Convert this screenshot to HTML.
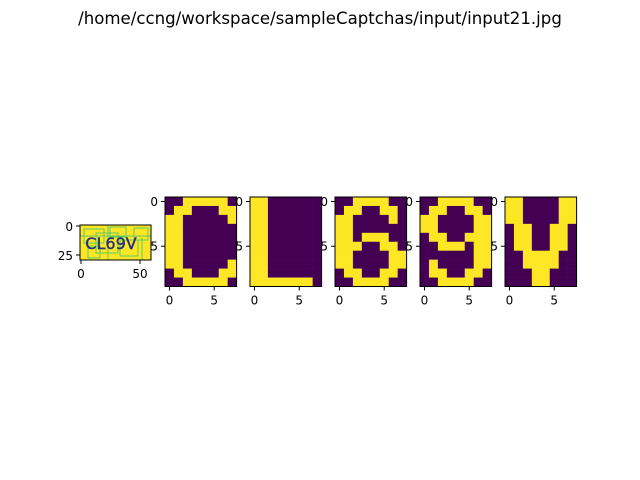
<!DOCTYPE html>
<html><head><meta charset="utf-8"><style>
body{margin:0;background:#fff}
svg{display:block;font-family:"DejaVu Sans","Liberation Sans",sans-serif}
</style></head><body>
<svg id="fig" width="640" height="480" xmlns="http://www.w3.org/2000/svg">
<rect width="640" height="480" fill="#fff"/>
<text x="320" y="24" text-anchor="middle" font-size="16.6">/home/ccng/workspace/sampleCaptchas/input/input21.jpg</text>
<g>
<rect x="80" y="225" width="71" height="35" fill="#fde725"/>
<g stroke="#5ec962" stroke-width="1" fill="none">
<rect x="84" y="229" width="20" height="14"/><rect x="96" y="233" width="22" height="20"/><rect x="110" y="227" width="16" height="10"/>
<rect x="120" y="240" width="18" height="16"/><rect x="134" y="228" width="14" height="12"/><rect x="88" y="246" width="12" height="12"/>
<line x1="80" y1="236" x2="151" y2="236"/><line x1="108" y1="225" x2="108" y2="260"/><line x1="142" y1="238" x2="142" y2="260"/>
</g>
<text x="111" y="249" text-anchor="middle" font-size="16" fill="#23307e" stroke="#23307e" stroke-width="0.4">CL69V</text>
<rect x="80" y="225" width="71" height="35" fill="none" stroke="#000" stroke-width="1"/>
<g font-size="12" fill="#000" stroke="#000">
<line x1="80" y1="226" x2="76" y2="226"/><line x1="80" y1="255" x2="76" y2="255"/>
<line x1="81" y1="260" x2="81" y2="264"/><line x1="140" y1="260" x2="140" y2="264"/>
</g>
<g font-size="12" fill="#000">
<text x="73" y="231" text-anchor="end">0</text><text x="73" y="260" text-anchor="end">25</text>
<text x="81" y="278" text-anchor="middle">0</text><text x="140" y="278" text-anchor="middle">50</text>
</g>
</g>
<g id="panels"></g>
</svg>
<script>
const charLabels = ["C","L","6","9","V"];
const glyphC = ["00111110","01100011","11000001","11000000","11000000","11000000","11000000","11000001","01100011","00111110"];
const glyphL = ["11000000","11000000","11000000","11000000","11000000","11000000","11000000","11000000","11000000","11111110"];
const glyph6 = ["00111100","01100110","11000010","11000000","11011100","11100110","11000011","11000011","01100110","00111100"];
const glyph9 = ["00111100","01100110","11000011","11000011","01100111","00111011","00000011","01000011","01100110","00111100"];
const glyphV = ["11000011","11000011","11000011","01100110","01100110","01100110","00111100","00111100","00011000","00011000"];
const glyphs = [glyphC, glyphL, glyph6, glyph9, glyphV];
const tickValues = [0, 5];

const NS = "http://www.w3.org/2000/svg";
const root = document.getElementById("panels");
const panelX0 = 165, panelStep = 85, panelY = 197, cell = 8.95;
function mk(tag, attrs){const e=document.createElementNS(NS,tag);for(const k in attrs)e.setAttribute(k,attrs[k]);return e;}
glyphs.forEach((g, p) => {
  const x0 = panelX0 + p*panelStep;
  const xs = c => x0 + c*cell;
  const ys = r => panelY + r*cell;
  const grp = mk("g", {});
  
  
  g.forEach((row, r) => {
    for (let c = 0; c < row.length; c++) {
      const rect = mk("rect", {x: xs(c), y: ys(r), width: cell+0.3, height: cell+0.3, fill: row[c]==="1" ? "#fde725" : "#440154"});
      
      
      grp.appendChild(rect);
    }
  });
  grp.appendChild(mk("rect", {x: x0, y: panelY, width: cell*8, height: cell*10, fill: "none", stroke: "#000", "stroke-width": 1}));
  tickValues.forEach(v => {
    const cx = xs(v) + cell/2, cy = ys(v) + cell/2;
    grp.appendChild(mk("line", {x1: x0, y1: cy, x2: x0-4, y2: cy, stroke: "#000"}));
    grp.appendChild(mk("line", {x1: cx, y1: panelY+cell*10, x2: cx, y2: panelY+cell*10+4, stroke: "#000"}));
    const ty = mk("text", {x: x0-7, y: cy+4.5, "text-anchor": "end", "font-size": 12});
    ty.textContent = v;
    
    
    grp.appendChild(ty);
    const tx = mk("text", {x: cx, y: panelY+cell*10+18, "text-anchor": "middle", "font-size": 12});
    tx.textContent = v;
    
    
    grp.appendChild(tx);
  });
  root.appendChild(grp);
});
</script>
</body></html>
